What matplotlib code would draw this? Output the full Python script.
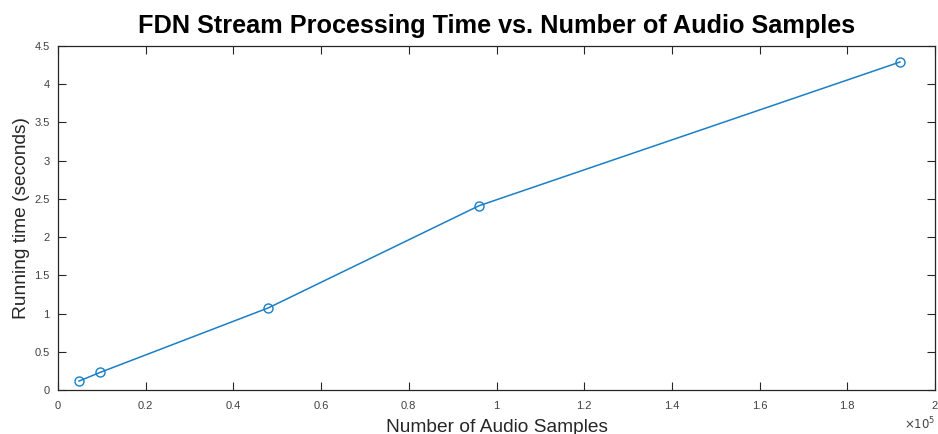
import matplotlib
matplotlib.use("Agg")
import matplotlib.pyplot as plt
import numpy as np

samples = [4800, 9600, 48000, 96000, 192000]
times = [0.117, 0.23, 1.075, 2.41, 4.29]
x_ticks = [0, 0.2, 0.4, 0.6, 0.8, 1.0, 1.2, 1.4, 1.6, 1.8, 2.0]
x_tick_labels = ["0", "0.2", "0.4", "0.6", "0.8", "1", "1.2", "1.4", "1.6", "1.8", "2"]
y_ticks = [0, 0.5, 1, 1.5, 2, 2.5, 3, 3.5, 4, 4.5]
y_tick_labels = ["0", "0.5", "1", "1.5", "2", "2.5", "3", "3.5", "4", "4.5"]

plt.rcParams['font.family'] = ['Liberation Sans', 'DejaVu Sans']

fig = plt.figure(figsize=(9.38, 4.34), dpi=100)
ax = fig.add_axes([58/938, 1 - 390/434, (935-58)/938, (390-46)/434])

ax.plot(np.array(samples) / 1e5, times, color='#1a7fc6', linewidth=1.1,
        marker='o', markersize=6.5, markerfacecolor='none', markeredgewidth=1.0)

ax.set_xlim(0, 2)
ax.set_ylim(0, 4.5)
ax.set_xticks(x_ticks)
ax.set_xticklabels(x_tick_labels)
ax.set_yticks(y_ticks)
ax.set_yticklabels(y_tick_labels)

axc = '#262626'
for s in ax.spines.values():
    s.set_color(axc)
    s.set_linewidth(0.9)
ax.tick_params(direction='in', length=6, width=0.8, colors=axc,
               labelcolor='#404040', labelsize=8, top=True, right=True)
ax.tick_params(axis='x', pad=8)
ax.tick_params(axis='y', pad=6)

ax.set_title("FDN Stream Processing Time vs. Number of Audio Samples",
             fontsize=18.2, fontweight='bold', color='black', pad=9)
ax.set_ylabel("Running time (seconds)", fontsize=13.8, color='#262626', labelpad=3)
ax.set_xlabel("Number of Audio Samples", fontsize=13.8, color='#262626', labelpad=6)

ax.text(1.0, -0.075, r"$\times10^{5}$", transform=ax.transAxes, ha='right', va='top',
        fontsize=8.5, color='#404040')

fig.savefig("out.png", dpi=100)
